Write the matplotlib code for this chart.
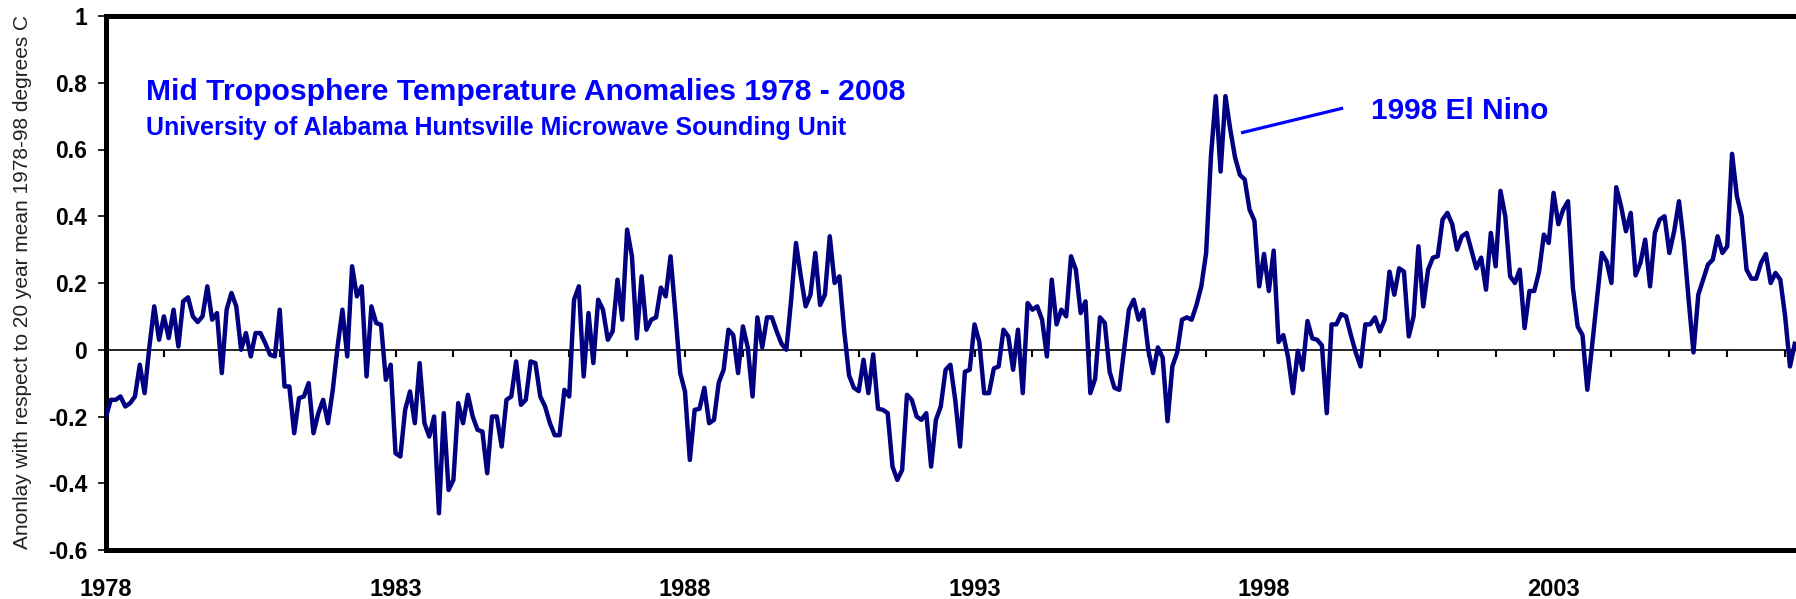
import matplotlib
matplotlib.use("Agg")
import matplotlib.pyplot as plt
import numpy as np

plt.rcParams['font.family'] = ['Liberation Sans', 'DejaVu Sans']

# Monthly anomalies (deg C), one row per year
anomaly_1978_1987 = [
    -0.20, -0.15, -0.15, -0.14, -0.17, -0.16, -0.14, -0.045, -0.13, 0.01, 0.13, 0.03,
    0.10, 0.035, 0.12, 0.01, 0.145, 0.157, 0.10, 0.083, 0.10, 0.19, 0.09, 0.11,
    -0.07, 0.12, 0.17, 0.13, 0.00, 0.05, -0.02, 0.05, 0.05, 0.02, -0.015, -0.02,
    0.12, -0.11, -0.11, -0.25, -0.145, -0.14, -0.10, -0.25, -0.19, -0.15, -0.22, -0.12,
    0.01, 0.12, -0.02, 0.25, 0.16, 0.19, -0.08, 0.13, 0.08, 0.075, -0.09, -0.045,
    -0.31, -0.32, -0.18, -0.125, -0.22, -0.04, -0.22, -0.26, -0.20, -0.49, -0.19, -0.42,
    -0.39, -0.16, -0.22, -0.135, -0.20, -0.24, -0.245, -0.37, -0.20, -0.20, -0.29, -0.15,
    -0.14, -0.035, -0.165, -0.15, -0.035, -0.04, -0.14, -0.17, -0.22, -0.256, -0.256, -0.12,
    -0.14, 0.15, 0.19, -0.08, 0.11, -0.04, 0.15, 0.12, 0.03, 0.055, 0.21, 0.09,
    0.36, 0.28, 0.034, 0.22, 0.06, 0.09, 0.097, 0.186, 0.16, 0.28, 0.11, -0.07,
]
anomaly_1988_1997 = [
    -0.125, -0.33, -0.18, -0.177, -0.114, -0.22, -0.21, -0.098, -0.06, 0.06, 0.044, -0.07,
    0.07, 0.007, -0.14, 0.097, 0.007, 0.097, 0.097, 0.055, 0.018, 0.00, 0.15, 0.32,
    0.22, 0.13, 0.165, 0.29, 0.134, 0.165, 0.34, 0.20, 0.22, 0.055, -0.077, -0.114,
    -0.124, -0.03, -0.13, -0.014, -0.177, -0.18, -0.19, -0.35, -0.39, -0.36, -0.135, -0.15,
    -0.20, -0.21, -0.19, -0.35, -0.21, -0.17, -0.06, -0.045, -0.15, -0.29, -0.066, -0.06,
    0.076, 0.023, -0.13, -0.13, -0.056, -0.05, 0.06, 0.04, -0.06, 0.06, -0.13, 0.14,
    0.12, 0.13, 0.09, -0.02, 0.21, 0.076, 0.12, 0.10, 0.28, 0.24, 0.11, 0.145,
    -0.13, -0.087, 0.097, 0.08, -0.066, -0.114, -0.12, 0.00, 0.12, 0.15, 0.09, 0.12,
    0.00, -0.07, 0.007, -0.024, -0.214, -0.05, -0.008, 0.09, 0.097, 0.09, 0.134, 0.19,
    0.29, 0.58, 0.76, 0.534, 0.76, 0.66, 0.576, 0.524, 0.51, 0.42, 0.387, 0.19,
]
anomaly_1998_2007 = [
    0.287, 0.176, 0.297, 0.023, 0.044, -0.024, -0.13, -0.003, -0.06, 0.086, 0.034, 0.03,
    0.013, -0.19, 0.076, 0.076, 0.107, 0.10, 0.044, -0.008, -0.05, 0.076, 0.076, 0.097,
    0.055, 0.09, 0.234, 0.165, 0.244, 0.234, 0.04, 0.10, 0.31, 0.13, 0.24, 0.276,
    0.28, 0.39, 0.41, 0.376, 0.30, 0.34, 0.35, 0.297, 0.244, 0.276, 0.18, 0.35,
    0.25, 0.476, 0.40, 0.22, 0.20, 0.24, 0.065, 0.176, 0.176, 0.234, 0.345, 0.32,
    0.47, 0.376, 0.42, 0.445, 0.187, 0.07, 0.044, -0.12, 0.013, 0.15, 0.29, 0.265,
    0.20, 0.487, 0.43, 0.355, 0.41, 0.223, 0.26, 0.33, 0.19, 0.35, 0.39, 0.40,
    0.29, 0.355, 0.445, 0.32, 0.15, -0.008, 0.165, 0.21, 0.255, 0.27, 0.34, 0.29,
    0.31, 0.587, 0.46, 0.40, 0.24, 0.213, 0.213, 0.26, 0.287, 0.20, 0.23, 0.21,
    0.10, -0.05, 0.018,
]

start_year = 1978
label_years = [1978, 1983, 1988, 1993, 1998, 2003]
year_ticks = list(range(1978, 2009))
y_ticks = [-0.6, -0.4, -0.2, 0, 0.2, 0.4, 0.6, 0.8, 1]

title = "Mid Troposphere Temperature Anomalies 1978 - 2008"
subtitle = "University of Alabama Huntsville Microwave Sounding Unit"
ylabel = "Anonlay with respect to 20 year mean 1978-98 degrees C"
callout = "1998 El Nino"

anomaly = np.array(anomaly_1978_1987 + anomaly_1988_1997 + anomaly_1998_2007)
x = start_year + np.arange(len(anomaly)) / 12

# Figure, the axes runs off the right edge like the original
fig = plt.figure(figsize=(17.96, 5.99), dpi=100)
ax = fig.add_axes([106 / 1796, 49 / 599, 1766 / 1796, 534 / 599])

# Zero line with a small tick every year
ax.axhline(0, color='black', lw=1.2, zorder=1)
ax.vlines(year_ticks, -0.022, 0, color='black', lw=1.5, zorder=1)

ax.plot(x, anomaly, color='#000080', lw=3.2, solid_joinstyle='round', zorder=3)

ax.set_xlim(1978, 2008.5)
ax.set_ylim(-0.6, 1.0)

for side in ['left', 'top', 'bottom']:
    ax.spines[side].set_linewidth(3.6)
ax.spines['right'].set_visible(False)

ax.set_yticks(y_ticks)
ax.set_yticklabels([f'{v:g}' for v in y_ticks])
ax.tick_params(axis='y', direction='out', length=5.5, width=1.2, pad=8, labelsize=16.5)
ax.set_xticks(label_years)
ax.set_xticklabels([str(y) for y in label_years])
ax.tick_params(axis='x', length=0, pad=20, labelsize=17)
for lab in ax.get_xticklabels() + ax.get_yticklabels():
    lab.set_fontweight('bold')

# Titles inside the plot area
ax.text(1978.69, 0.748, title, color='#0000ff', fontsize=21.7, fontweight='bold')
ax.text(1978.69, 0.643, subtitle, color='#0000ff', fontsize=18, fontweight='bold')

# El Nino callout
ax.plot([1997.63, 1999.34], [0.651, 0.723], color='#0000ff', lw=2.3, zorder=4)
ax.text(1999.84, 0.692, callout, color='#0000ff', fontsize=21.5, fontweight='bold')

fig.text(23 / 1796, 1 - 282 / 599, ylabel, rotation=90, ha='center', va='center',
         fontsize=15, color='#222222')

plt.savefig("out.png", dpi=100)
